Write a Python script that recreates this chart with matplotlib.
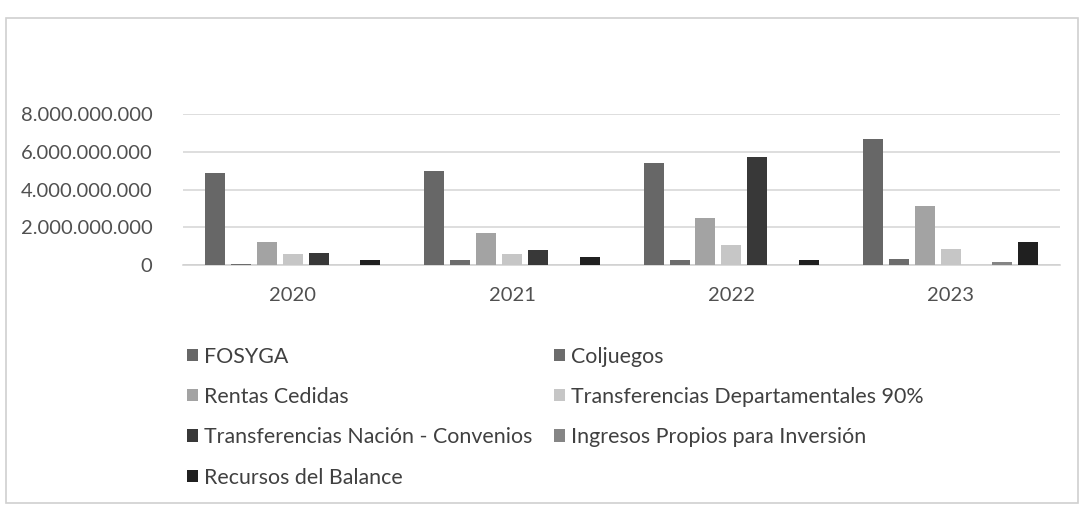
import matplotlib.pyplot as plt
from matplotlib.patches import Rectangle
from matplotlib.ticker import FuncFormatter
import numpy as np

plt.rcParams['font.family'] = ['Lato', 'DejaVu Sans']

# Ingresos por fuente y vigencia (pesos)
anios = ['2020', '2021', '2022', '2023']
series = ['FOSYGA', 'Coljuegos', 'Rentas Cedidas', 'Transferencias Departamentales 90%',
          'Transferencias Nación - Convenios', 'Ingresos Propios para Inversión',
          'Recursos del Balance']
fosyga = [4.90e9, 5.00e9, 5.40e9, 6.65e9]
coljuegos = [0.08e9, 0.27e9, 0.27e9, 0.35e9]
rentas_cedidas = [1.22e9, 1.68e9, 2.50e9, 3.15e9]
transf_dept = [0.57e9, 0.60e9, 1.05e9, 0.88e9]
transf_nacion = [0.65e9, 0.80e9, 5.70e9, 0.0]
ingresos_propios = [0.0, 0.0, 0.0, 0.15e9]
recursos_balance = [0.25e9, 0.42e9, 0.25e9, 1.24e9]

valores = [fosyga, coljuegos, rentas_cedidas, transf_dept,
           transf_nacion, ingresos_propios, recursos_balance]
colores = ['#676767', '#6c6c6c', '#a3a3a3', '#c6c6c6', '#383838', '#858585', '#202020']

fig = plt.figure(figsize=(10.83, 5.13), dpi=100)
ax = fig.add_axes([0.169, 0.483, 0.810, 0.295])

x = np.arange(len(anios))
paso = 0.118
ancho = 0.091
barras = []
for j, (vals, col) in enumerate(zip(valores, colores)):
    b = ax.bar(x + (j - 3) * paso, vals, width=ancho, color=col, label=series[j], zorder=3)
    barras.append(b)

ax.set_xlim(-0.5, 3.5)
ax.set_ylim(0, 8e9)
ax.set_yticks([0, 2e9, 4e9, 6e9, 8e9])
ax.yaxis.set_major_formatter(FuncFormatter(lambda v, p: f'{int(v):,}'.replace(',', '.')))
ax.set_xticks(x)
ax.set_xticklabels(anios)
ax.grid(axis='y', color='#d4d4d4', linewidth=1.1, zorder=0)
for s in ['top', 'right', 'left']:
    ax.spines[s].set_visible(False)
ax.spines['bottom'].set_color('#cfcfcf')
ax.spines['bottom'].set_linewidth(1.1)
ax.tick_params(axis='both', length=0, labelsize=14.5, colors='#505050')
ax.tick_params(axis='x', pad=16)
ax.tick_params(axis='y', pad=22)

# leyenda en dos columnas, orden por filas
orden = [0, 2, 4, 6, 1, 3, 5]
fig.legend([barras[i] for i in orden], [series[i] for i in orden],
           loc='upper left', bbox_to_anchor=(0.155, 0.362), ncol=2, frameon=False,
           fontsize=15.4, labelcolor='#404040', handlelength=0.5, handleheight=0.5,
           handletextpad=0.3, columnspacing=1.0, labelspacing=0.95)

# marco del gráfico
fig.patches.append(Rectangle((6 / 1083, 1 - 503 / 513), 1072 / 1083, 485 / 513,
                             transform=fig.transFigure, fill=False,
                             edgecolor='#d0d0d0', linewidth=1.2))

fig.savefig('out.png', dpi=100)
